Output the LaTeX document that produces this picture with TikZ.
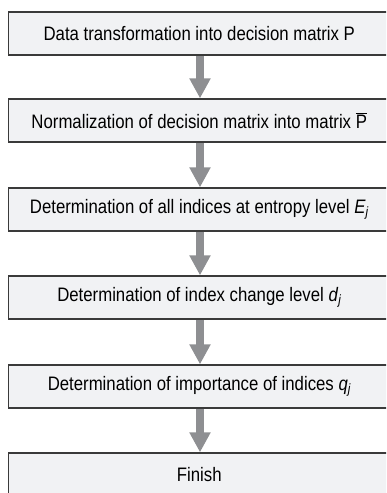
\documentclass[tikz,border=0pt]{standalone}
\usepackage{fontspec}
\setmainfont[FakeStretch=0.86]{Liberation Sans}
\usetikzlibrary{arrows.meta}
\definecolor{boxfill}{HTML}{F1F2F4}
\definecolor{boxline}{HTML}{3A3A3A}
\definecolor{arrowgray}{HTML}{8E8F92}
\newcommand{\myvar}[2]{\textit{#1}\raisebox{-0.35ex}{\fontsize{13.5}{13.5}\selectfont\textit{#2}}}
\tikzset{
  stepbox/.style={draw=boxline, line width=1.3pt, fill=boxfill, minimum width=381.5pt, minimum height=43pt, inner sep=0pt, font=\fontsize{19.5}{22}\selectfont},
  flowarrow/.style={draw=arrowgray, line width=8pt, -{Triangle[width=20pt,length=20pt]}, shorten <=0.7pt}
}
\begin{document}
\begin{tikzpicture}[x=1pt,y=-1pt]
\useasboundingbox (0,0) rectangle (386,493);
\clip (0,0) rectangle (386,493);
\node[stepbox] (b1) at (199.25,33.5) {Data transformation into decision matrix P};
\node[stepbox] (b2) at (199.25,120.5) {Normalization of decision matrix into matrix $\overline{\mbox{P}}$};
\node[stepbox] (b3) at (199.25,209.5) {Determination of all indices at entropy level \myvar{E}{j}};
\node[stepbox] (b4) at (199.25,297.5) {Determination of index change level \myvar{d}{j}};
\node[stepbox] (b5) at (199.25,386.5) {Determination of importance of indices \myvar{q}{j}};
\node[stepbox] (b6) at (199.25,474.5) {Finish};
\draw[flowarrow] ([xshift=0.75pt]b1.south) -- ([xshift=0.75pt]b2.north);
\draw[flowarrow] ([xshift=0.75pt]b2.south) -- ([xshift=0.75pt]b3.north);
\draw[flowarrow] ([xshift=0.75pt]b3.south) -- ([xshift=0.75pt]b4.north);
\draw[flowarrow] ([xshift=0.75pt]b4.south) -- ([xshift=0.75pt]b5.north);
\draw[flowarrow] ([xshift=0.75pt]b5.south) -- ([xshift=0.75pt]b6.north);
\end{tikzpicture}
\end{document}
